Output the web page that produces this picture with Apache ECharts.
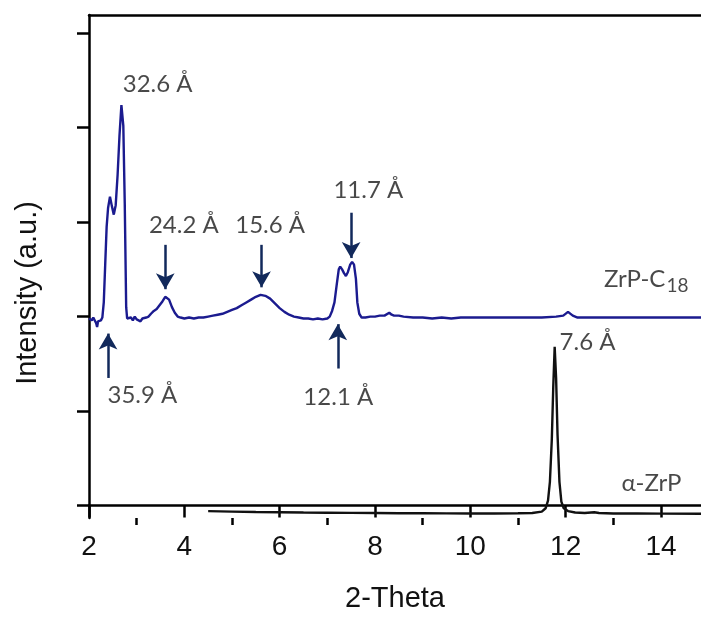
<!DOCTYPE html>
<html>
<head>
<meta charset="utf-8">
<script src="https://cdn.jsdelivr.net/npm/echarts@6/dist/echarts.min.js"></script>
<style>
  html, body { margin: 0; padding: 0; background: #fff; }
  #chart { width: 701px; height: 618px; }
</style>
</head>
<body>
<div id="chart"></div>
<script>
// XRD patterns: 2-Theta (deg) vs. stacked intensity (a.u.)
const c18Theta = [2.00, 2.03, 2.06, 2.09, 2.12, 2.15, 2.17, 2.19, 2.22, 2.25, 2.28, 2.31, 2.34, 2.37, 2.40, 2.44, 2.48, 2.52, 2.56, 2.60, 2.64, 2.68, 2.72, 2.75, 2.78, 2.80,
  2.84, 2.88, 2.92, 2.96, 3.00, 3.04, 3.08, 3.12, 3.16, 3.20, 3.25, 3.30, 3.36, 3.42, 3.48, 3.54, 3.60, 3.63, 3.68, 3.74, 3.80, 3.86, 3.92,
  4.00, 4.10, 4.20, 4.30, 4.40, 4.50, 4.60, 4.70, 4.80, 4.90, 5.00, 5.10, 5.20, 5.30, 5.40, 5.50, 5.60, 5.70, 5.80, 5.90, 6.00, 6.10, 6.20, 6.30, 6.40, 6.50, 6.60, 6.70, 6.80, 6.90, 7.00,
  7.05, 7.10, 7.15, 7.20, 7.24, 7.27, 7.31, 7.35, 7.39, 7.43, 7.48, 7.52, 7.56, 7.60, 7.63, 7.67, 7.72, 7.80, 7.90, 8.00, 8.10, 8.20, 8.30, 8.35, 8.40, 8.50, 8.60, 8.80,
  9.00, 9.20, 9.40, 9.60, 9.80, 10.00, 10.30, 10.60, 10.90, 11.20, 11.50, 11.80, 11.95, 12.05, 12.15, 12.25, 12.50, 12.80, 13.10, 13.40, 13.70, 14.00, 14.30, 14.60, 14.84];
const c18Intensity = [1.98, 2.00, 1.96, 1.99, 1.97, 1.93, 1.89, 1.95, 1.97, 1.96, 1.99, 2.15, 2.55, 2.95, 3.15, 3.27, 3.17, 3.08, 3.18, 3.50, 3.92, 4.24, 4.02, 3.20, 2.10, 1.98,
  1.96, 1.99, 1.96, 2.00, 1.97, 1.99, 1.95, 1.98, 1.97, 1.99, 2.00, 2.03, 2.06, 2.08, 2.12, 2.16, 2.21, 2.23, 2.18, 2.10, 2.04, 2.00, 1.99,
  1.98, 1.99, 1.98, 1.99, 1.99, 2.00, 2.01, 2.02, 2.03, 2.05, 2.07, 2.09, 2.12, 2.15, 2.18, 2.21, 2.23, 2.22, 2.19, 2.14, 2.09, 2.05, 2.02, 2.00, 1.99, 1.98, 1.98, 1.97, 1.98, 1.97, 1.98,
  2.00, 2.06, 2.15, 2.35, 2.50, 2.53, 2.50, 2.46, 2.43, 2.47, 2.55, 2.58, 2.55, 2.40, 2.15, 2.03, 1.99, 1.99, 2.00, 2.00, 2.01, 2.01, 2.04, 2.02, 2.01, 2.01, 2.00, 1.99,
  1.99, 1.98, 1.99, 1.98, 1.99, 1.99, 1.99, 1.99, 1.99, 1.99, 1.99, 2.00, 2.01, 2.05, 2.01, 1.99, 1.99, 1.99, 1.99, 1.99, 1.99, 1.99, 1.99, 1.99, 1.99];

const zrpTheta = [4.50, 5.00, 5.50, 6.00, 6.50, 7.00, 7.50, 8.00, 8.50, 9.00, 9.50, 10.00, 10.50, 11.00, 11.30, 11.50, 11.58, 11.63, 11.67, 11.71, 11.74, 11.77,
  11.80, 11.83, 11.87, 11.91, 11.96, 12.05, 12.20, 12.40, 12.60, 12.70, 13.00, 13.50, 14.00, 14.84];
const zrpIntensity = [-0.060, -0.065, -0.070, -0.072, -0.075, -0.077, -0.079, -0.080, -0.082, -0.083, -0.084, -0.085, -0.085, -0.083, -0.080, -0.065, -0.030, 0.050, 0.250, 0.700, 1.250, 1.680,
  1.350, 0.750, 0.250, 0.040, -0.030, -0.060, -0.075, -0.080, -0.072, -0.080, -0.085, -0.086, -0.087, -0.088];

// Axis ticks
const xMajorTicks = [2, 4, 6, 8, 10, 12, 14];
const xMinorTicks = [3, 5, 7, 9, 11, 13];
const yTicks = [0, 1, 2, 3, 4, 5];

// d-spacing annotations: [2-Theta, intensity, text]
const spacingLabels = [
  [3.44, 4.46, '32.6 Å'],
  [3.12, 1.17, '35.9 Å'],
  [3.99, 2.97, '24.2 Å'],
  [5.80, 2.97, '15.6 Å'],
  [7.86, 3.34, '11.7 Å'],
  [7.23, 1.15, '12.1 Å'],
  [12.46, 1.73, '7.6 Å']
];
// Arrows: [2-Theta, tail intensity, head intensity]
const arrows = [
  [2.40, 1.35, 1.82],
  [3.60, 2.76, 2.29],
  [5.62, 2.76, 2.31],
  [7.50, 3.10, 2.62],
  [7.22, 1.45, 1.92]
];
// Curve names
const curveNames = [
  [13.69, 2.40, '{n|ZrP-C}{s|18}'],
  [13.80, 0.24, '{n|α-ZrP}']
];

const xMin = 2, xMax = 14.84, yMin = -0.133, yMax = 5.194;
const annFont = 'Lato, "Open Sans", sans-serif';
const annColor = '#1a1a1a';
const arrowColor = '#12295b';

const zip = (xs, ys) => xs.map((x, i) => [x, ys[i]]);

const chart = echarts.init(document.getElementById('chart'), null, { renderer: 'canvas' });
chart.setOption({
  animation: false,
  backgroundColor: '#ffffff',
  grid: { left: 89, right: 0, top: 15, bottom: 95, containLabel: false },
  xAxis: [
    {
      type: 'value', min: xMin, max: xMax, position: 'bottom',
      name: '2-Theta', nameLocation: 'middle', nameGap: 66,
      nameTextStyle: { fontFamily: '"Liberation Sans", Arial, sans-serif', fontSize: 29, color: '#111' },
      axisLine: { show: true, lineStyle: { color: '#000', width: 2.5 } },
      axisTick: { show: true, inside: false, length: 12, customValues: xMajorTicks, lineStyle: { color: '#000', width: 2.5 } },
      axisLabel: { customValues: xMajorTicks, margin: 15, fontFamily: '"Liberation Sans", Arial, sans-serif', fontSize: 28, color: '#111' },
      splitLine: { show: false }
    },
    {
      type: 'value', min: xMin, max: xMax, position: 'bottom',
      axisLine: { show: false },
      axisTick: { show: true, inside: false, length: 7, customValues: xMinorTicks, lineStyle: { color: '#000', width: 2.5 } },
      axisLabel: { show: false },
      splitLine: { show: false }
    },
    {
      type: 'value', min: xMin, max: xMax, position: 'top',
      axisLine: { show: true, lineStyle: { color: '#000', width: 2.5 } },
      axisTick: { show: false }, axisLabel: { show: false }, splitLine: { show: false }
    }
  ],
  yAxis: {
    type: 'value', min: yMin, max: yMax,
    axisLine: { show: true, lineStyle: { color: '#000', width: 2.5 } },
    axisTick: { show: true, inside: false, length: 12, customValues: yTicks, lineStyle: { color: '#000', width: 2.5 } },
    axisLabel: { show: false },
    splitLine: { show: false }
  },
  graphic: [{
    type: 'text', x: 28, y: 293, rotation: Math.PI / 2,
    style: { text: 'Intensity (a.u.)', fontFamily: '"Liberation Sans", Arial, sans-serif', fontSize: 29, fill: '#111', align: 'center', verticalAlign: 'middle' }
  }],
  series: [
    {
      name: 'ZrP-C18', type: 'line', data: zip(c18Theta, c18Intensity),
      showSymbol: false, lineStyle: { color: '#1b1b8f', width: 2.4 }, z: 3,
      markLine: {
        silent: true, symbol: ['none', 'arrow'], symbolSize: [14, 16],
        label: { show: false },
        lineStyle: { color: arrowColor, width: 2.5, type: 'solid' },
        data: arrows.map(a => [{ coord: [a[0], a[1]] }, { coord: [a[0], a[2]] }])
      }
    },
    {
      name: 'α-ZrP', type: 'line', data: zip(zrpTheta, zrpIntensity),
      showSymbol: false, lineStyle: { color: '#111', width: 2.4 }, z: 3
    },
    {
      type: 'scatter', symbolSize: 0, silent: true,
      data: spacingLabels.map(d => ({ value: [d[0], d[1]], name: d[2] })),
      label: { show: true, position: 'inside', formatter: p => p.name, fontFamily: annFont, fontSize: 24, color: annColor }
    },
    {
      type: 'scatter', symbolSize: 0, silent: true,
      data: curveNames.map(d => ({ value: [d[0], d[1]], name: d[2] })),
      label: {
        show: true, position: 'inside', formatter: p => p.name, color: annColor,
        rich: {
          n: { fontFamily: annFont, fontSize: 24, color: annColor, verticalAlign: 'bottom' },
          s: { fontFamily: annFont, fontSize: 19, color: annColor, verticalAlign: 'bottom', padding: [0, 0, -5, 1] }
        }
      }
    }
  ]
});
</script>
</body>
</html>
